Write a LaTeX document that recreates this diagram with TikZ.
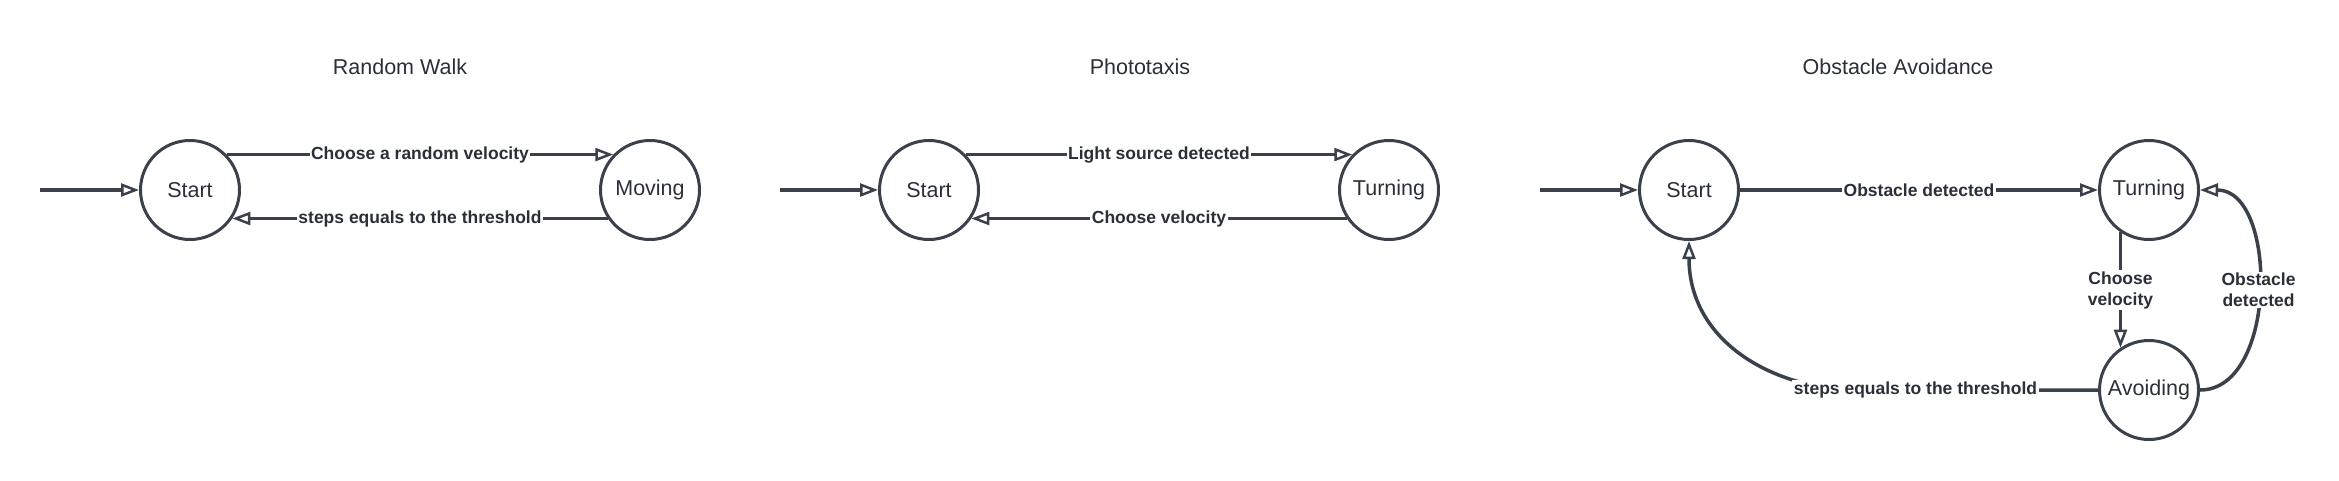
\documentclass[tikz,border=0pt]{standalone}
\usepackage{fontspec}
\setmainfont{Liberation Sans}
\usetikzlibrary{arrows.meta, positioning}
\definecolor{linegray}{HTML}{3A414A}
\definecolor{textgray}{HTML}{2B2F36}

\begin{document}
\begin{tikzpicture}[x=1pt, y=-1pt, on grid,
  state/.style={circle, draw=linegray, line width=3pt, minimum size=99pt, inner sep=0pt, text=textgray, font=\fontsize{21.5}{26}\selectfont},
  title/.style={text=textgray, font=\fontsize{21.5}{26}\selectfont},
  edge/.style={draw=linegray, line width=3.5pt, -{Triangle[open, length=18pt, width=13pt, line width=2.5pt]}},
  lbl/.style={fill=white, inner sep=1.5pt, text=textgray, font=\bfseries\fontsize{17.5}{21}\selectfont}
]
  \useasboundingbox (0,0) rectangle (2339,480);

  % Random Walk
  \node[title] (rwtitle) at (400,67) {Random Walk};
  \coordinate (rwin) at (40,190);
  \node[state] (rwstart) at (190,190) {Start};
  \node[state, right=460pt of rwstart] (rwmove) {Moving};
  \draw[edge] (rwin) -- (rwstart);
  \draw[edge] (rwstart.44) -- node[lbl] {Choose a random velocity} (rwmove.136);
  \draw[edge] (rwmove.-146) -- node[lbl] {steps equals to the threshold} (rwstart.-34);

  % Phototaxis
  \node[title] (pttitle) at (1140,67) {Phototaxis};
  \coordinate (ptin) at (780,190);
  \node[state] (ptstart) at (929,190) {Start};
  \node[state, right=460pt of ptstart] (ptturn) {Turning};
  \draw[edge] (ptin) -- (ptstart);
  \draw[edge] (ptstart.44) -- node[lbl] {Light source detected} (ptturn.136);
  \draw[edge] (ptturn.-146) -- node[lbl] {Choose velocity} (ptstart.-34);

  % Obstacle Avoidance
  \node[title] (oatitle) at (1898,67) {Obstacle Avoidance};
  \coordinate (oain) at (1540,190);
  \node[state] (oastart) at (1689,190) {Start};
  \node[state, right=460pt of oastart] (oaturn) {Turning};
  \node[state, below=200pt of oaturn] (oaavoid) {Avoiding};
  \draw[edge] (oain) -- (oastart);
  \draw[edge] (oastart) -- node[lbl] {Obstacle detected} (oaturn);
  \draw[edge] (oaturn.236) -- node[lbl, align=center] {Choose\\velocity} (oaavoid.124);
  \draw[edge] (oaavoid.east) to[out=0, in=0] node[lbl, align=center] {Obstacle\\detected} (oaturn.east);
  \draw[edge] (oaavoid.west) -- node[lbl, pos=0.73] {steps equals to the threshold} ++(-250,0)
    .. controls +(-85,-5) and +(0,95) .. (oastart.south);
\end{tikzpicture}
\end{document}
